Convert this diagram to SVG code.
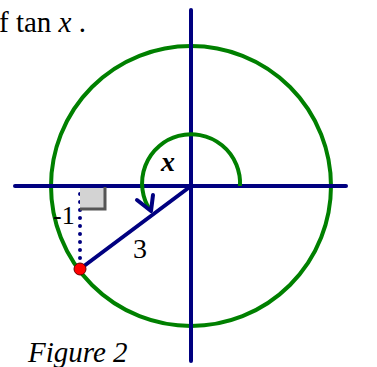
<svg xmlns="http://www.w3.org/2000/svg" width="377" height="367" viewBox="0 0 377 367">
<style>
.ax{stroke:#000080;stroke-width:4;fill:none;stroke-linecap:round}
.gr{stroke:#008000;stroke-width:4;fill:none}
.t{font-family:"Liberation Serif","DejaVu Serif",serif;fill:#000}
</style>
<rect width="377" height="367" fill="#fff"/>
<text class="t" x="-1" y="32" font-size="29">f tan <tspan font-style="italic">x</tspan> .</text>
<g id="circle"><circle cx="191" cy="186" r="140" class="gr"/></g>
<g id="connectors">
<line class="ax" x1="15" y1="186" x2="346" y2="186"/>
<line class="ax" x1="191" y1="10" x2="191" y2="361"/>
<path class="gr" d="M240,186 A49,49 0 1 0 150,210"/>
<polyline class="ax" points="137,200 151,211 153,195" stroke-linejoin="round"/>
<line x1="80" y1="194" x2="80" y2="262" stroke="#000080" stroke-width="4" stroke-linecap="round" stroke-dasharray="0 8"/>
<line class="ax" x1="191" y1="186" x2="80" y2="269"/>
</g>
<g id="rightangle">
<rect x="80" y="188" width="24" height="20" fill="#d3d3d3"/>
<polyline points="105,187 105,209 80,209" fill="none" stroke="#555" stroke-width="3"/>
</g>
<g id="point"><circle cx="80" cy="269" r="6" fill="#ff0000" stroke="#600" stroke-width="1"/></g>
<text class="t" x="161" y="171" font-size="28" font-weight="bold" font-style="italic">x</text>
<text class="t" x="53" y="224" font-size="26">-1</text>
<text class="t" x="133" y="258" font-size="28">3</text>
<text class="t" x="28" y="362" font-size="29" font-style="italic">Figure 2</text>
</svg>
